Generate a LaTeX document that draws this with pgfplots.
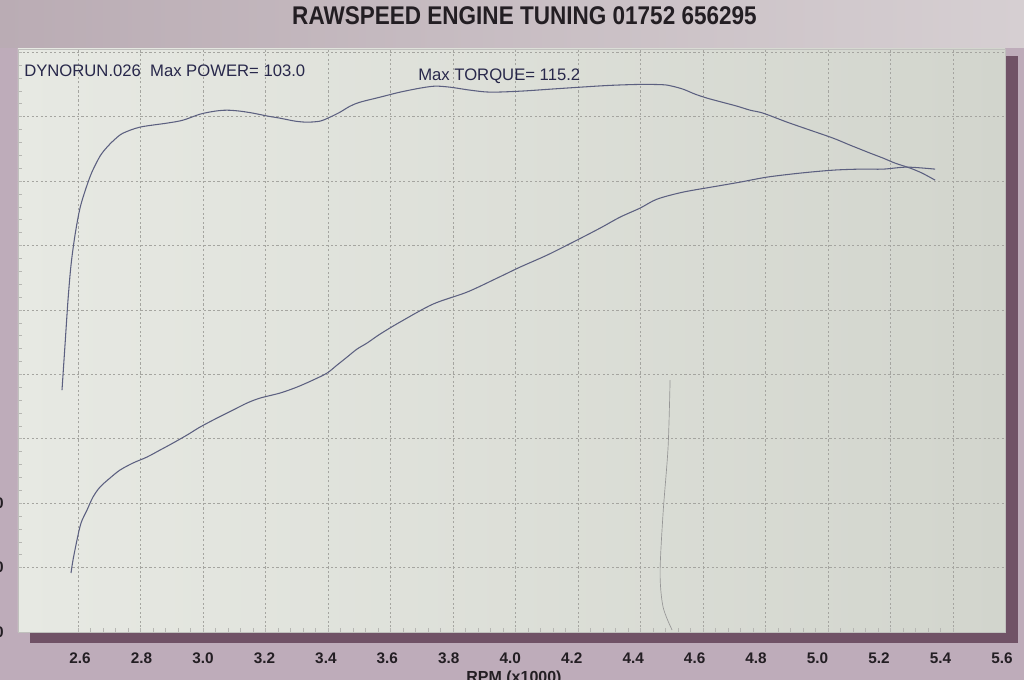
\documentclass[border=0pt]{standalone}
\usepackage{pgfplots}
\usepackage{pgfplotstable}
\pgfplotsset{compat=1.18}
\usepackage{fontspec}
\setmainfont{Liberation Sans}
\newfontfamily\titlefont{Liberation Sans}[FakeStretch=0.88]
\definecolor{bgm}{RGB}{190,172,186}
\definecolor{bandL}{RGB}{186,172,180}
\definecolor{bandR}{RGB}{214,207,210}
\definecolor{shadowc}{RGB}{112,82,102}
\definecolor{paperL}{RGB}{231,233,227}
\definecolor{paperR}{RGB}{210,213,205}
\definecolor{curvec}{RGB}{92,96,128}
\definecolor{gridc}{RGB}{165,165,160}
\definecolor{annotc}{RGB}{40,40,75}
\definecolor{titlec}{RGB}{35,30,35}
\definecolor{pencil}{RGB}{150,150,150}

\pgfplotstableread{
rpm val
2.5488 67.55
2.5584 74.54
2.5680 81.52
2.5776 86.95
2.5904 91.61
2.6064 95.80
2.6256 98.90
2.6448 101.42
2.6704 103.86
2.6928 105.26
2.7184 106.50
2.7440 107.43
2.7984 108.37
2.8848 108.99
2.9360 109.45
2.9904 110.38
3.0384 110.85
3.0768 111.00
3.1184 110.85
3.1600 110.54
3.2080 110.07
3.2464 109.76
3.2944 109.30
3.3328 109.14
3.3744 109.30
3.4064 109.92
3.4384 110.69
3.4704 111.62
3.5024 112.24
3.5664 113.02
3.6304 113.80
3.6944 114.42
3.7424 114.73
3.7904 114.57
3.8544 114.11
3.9184 113.80
4.0144 113.95
4.1104 114.26
4.2064 114.57
4.3024 114.85
4.3984 115.00
4.4720 114.95
4.5008 114.73
4.5360 114.26
4.5744 113.49
4.6128 112.87
4.6608 112.24
4.7088 111.62
4.7504 111.00
4.7920 110.54
4.8688 109.14
4.9424 107.90
5.0160 106.66
5.0704 105.57
5.1024 104.95
5.1344 104.33
5.1760 103.56
5.2144 102.78
5.2624 102.01
5.3008 101.23
5.3424 100.14
}\torque

\pgfplotstableread{
rpm val
2.5776 39.16
2.5840 41.17
2.5968 44.28
2.6096 46.91
2.6288 48.93
2.6480 50.95
2.6704 52.50
2.7024 53.90
2.7344 55.14
2.7760 56.23
2.8208 57.16
2.8624 58.24
2.9040 59.33
2.9488 60.57
2.9904 61.81
3.0448 63.21
3.0960 64.45
3.1408 65.54
3.1824 66.31
3.2464 67.09
3.3008 68.02
3.3520 69.11
3.3968 70.19
3.4288 71.43
3.4608 72.67
3.4928 73.92
3.5248 74.85
3.5664 76.24
3.6304 78.11
3.7360 80.90
3.8448 82.76
3.9408 84.93
4.0144 86.64
4.1008 88.50
4.1840 90.52
4.2704 92.69
4.3344 94.40
4.3984 95.80
4.4528 97.19
4.5360 98.28
4.6448 99.21
4.7184 99.83
4.8048 100.61
4.9104 101.23
5.0160 101.69
5.1024 101.85
5.1760 101.85
5.2528 102.16
5.3424 101.85
}\power

\pgfplotstableread{
rpm val
4.4944 69.11
4.4880 58.71
4.4720 48.47
4.4624 39.16
4.4720 33.88
4.5008 30.31
}\pencilline

\begin{document}
\begin{tikzpicture}[x=0.75pt,y=0.75pt]
\useasboundingbox (0,0) rectangle (1024,680);
\fill[bgm] (0,0) rectangle (1024,680);
\shade[left color=bandL, right color=bandR] (0,632) rectangle (1024,680);
\fill[shadowc] (30,37) rectangle (1018,48);
\fill[shadowc] (1004,37) rectangle (1018,624);

\begin{axis}[
  at={(13.5pt,36pt)}, anchor=south west,
  scale only axis, width=740.25pt, height=437.25pt,
  xmin=2.408, xmax=5.566, ymin=30, ymax=120.5,
  axis background/.style={left color=paperL, right color=paperR},
  axis line style={draw=gridc!70, line width=0.4pt},
  xtick={2.6,2.8,3.0,3.2,3.4,3.6,3.8,4.0,4.2,4.4,4.6,4.8,5.0,5.2,5.4},
  ytick={40,50,60,70,80,90,100,110,120},
  xticklabels={}, yticklabels={},
  grid=major,
  major grid style={gridc, line width=0.45pt, dash pattern=on 1.6pt off 1.8pt},
  minor x tick num=4, minor y tick num=4,
  xtick pos=bottom, ytick pos=left,
  tick align=inside,
  major tick length=3pt, minor tick length=3pt,
  every tick/.style={gridc!80, line width=0.4pt},
]
\addplot[pencil, line width=0.5pt, smooth] table[x=rpm, y=val] {\pencilline};
\addplot[curvec, line width=0.8pt, smooth, tension=0.5] table[x=rpm, y=val] {\torque};
\addplot[curvec, line width=0.8pt, smooth, tension=0.5] table[x=rpm, y=val] {\power};
\end{axis}

\begin{axis}[
  at={(13.5pt,36pt)}, anchor=south west,
  scale only axis, width=740.25pt, height=437.25pt,
  xmin=2.398, xmax=5.61, ymin=30, ymax=120.5,
  axis line style={draw=none},
  major tick length=0pt,
  xtick={2.6,2.8,3.0,3.2,3.4,3.6,3.8,4.0,4.2,4.4,4.6,4.8,5.0,5.2,5.4,5.6},
  xticklabels={2.6,2.8,3.0,3.2,3.4,3.6,3.8,4.0,4.2,4.4,4.6,4.8,5.0,5.2,5.4,5.6},
  ytick={30,40,50},
  yticklabels={30,40,50},
  xticklabel style={font=\bfseries\fontsize{11.5}{13}\selectfont, text=titlec, anchor=base, inner sep=0pt, yshift=-24pt},
  yticklabel style={font=\bfseries\fontsize{11.5}{13}\selectfont, text=titlec, anchor=east, inner sep=0pt, xshift=-10.5pt},
]
\end{axis}

\node[anchor=base, text=titlec, inner sep=0pt] at (524.5,655) {\titlefont\bfseries\fontsize{19.2}{22}\selectfont RAWSPEED ENGINE TUNING 01752 656295};
\node[anchor=base west, text=annotc, inner sep=0pt] at (24,603) {\fontsize{12.5}{15}\selectfont DYNORUN.026\hspace{0.55em}Max POWER= 103.0};
\node[anchor=base west, text=annotc, inner sep=0pt] at (418,599) {\fontsize{12.5}{15}\selectfont Max TORQUE= 115.2};
\node[anchor=base, text=titlec, inner sep=0pt] at (514,-3) {\bfseries\fontsize{12}{14}\selectfont RPM (x1000)};
\end{tikzpicture}
\end{document}
